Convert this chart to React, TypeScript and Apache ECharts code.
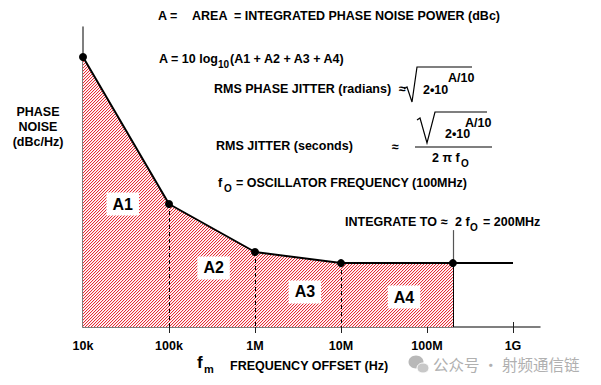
import React, { useEffect, useRef } from "react";
import * as echarts from "echarts";

// ---- data ----
const freqHz = [1e4, 1e5, 1e6, 1e7, 2e8, 1e9];
const noiseDbcHz = [-70, -119, -135, -138.7, -138.7, -138.7];
const markerCount = 5; // points with dots (up to 200 MHz)
const tickFreqs = [1e4, 1e5, 1e6, 1e7, 1e8, 1e9];
const tickLabels = ["10k", "100k", "1M", "10M", "100M", "1G"];
const areaNames = ["A1", "A2", "A3", "A4"];
const areaLabelFreq = [2.9e4, 3.3e5, 3.8e6, 5.4e7];
const areaLabelLevel = [-119, -140.3, -148.3, -150];
const integrateFreq = 2e8;
const integrateLabelLevel = -127.7;
const xMaxFreq = 2.06e9;
const yMin = -160;
const yMax = -60;

const lg = (v: number) => Math.log10(v);
const FONT = "'Liberation Sans', Arial, sans-serif";
const B12 = `bold 12.5px ${FONT}`;
const SUB = `bold 10px ${FONT}`;

function makeHatch() {
  const n = 6;
  const c = document.createElement("canvas");
  c.width = n;
  c.height = n;
  const g = c.getContext("2d")!;
  g.fillStyle = "#ffffff";
  g.fillRect(0, 0, n, n);
  for (let x = 0; x < n; x++) {
    for (let y = 0; y < n; y++) {
      const r = (x + y) % 3;
      if (r === 0) {
        g.fillStyle = "#e82a35";
        g.fillRect(x, y, 1, 1);
      } else if (r === 1) {
        g.fillStyle = "#fbdadd";
        g.fillRect(x, y, 1, 1);
      }
    }
  }
  return c;
}

function txt(x: number, y: number, text: string, font = B12, align = "left", fill = "#000") {
  return {
    type: "text",
    x,
    y,
    silent: true,
    style: { text, font, fill, align, verticalAlign: "middle" },
  };
}

export default function App() {
  const ref = useRef<HTMLDivElement>(null);
  useEffect(() => {
    if (!ref.current) return;
    const chart = echarts.init(ref.current, null, { renderer: "svg" });
    const hatch = makeHatch();
    const pts = freqHz.map((f, i) => [lg(f), noiseDbcHz[i]]);
    const areaPts = pts.slice(0, markerCount);
    const linePts = pts.map((p, i) =>
      i < markerCount ? { value: p } : { value: p, symbol: "none" }
    );
    const dashed = [1, 2, 3].map((i) => [
      { coord: [lg(freqHz[i]), noiseDbcHz[i]] },
      { coord: [lg(freqHz[i]), yMin] },
    ]);
    const iv = noiseDbcHz[freqHz.indexOf(integrateFreq)];
    const markData: any[] = [
      ...dashed.map((d) => [
        { ...d[0], lineStyle: { type: [4, 3], color: "#000", width: 1 } },
        d[1],
      ]),
      [
        { coord: [lg(integrateFreq), yMin], lineStyle: { type: "solid", color: "#000", width: 1 } },
        { coord: [lg(integrateFreq), iv] },
      ],
      [
        { coord: [lg(integrateFreq), iv], lineStyle: { type: "solid", color: "#555", width: 1.2 } },
        { coord: [lg(integrateFreq), integrateLabelLevel] },
      ],
    ];

    const tickVals = tickFreqs.map((f) => lg(f));
    const option: any = {
      animation: false,
      grid: { left: 83, right: 61, top: 27, bottom: 58, outerBoundsMode: "none" },
      xAxis: [
        {
          type: "value",
          min: lg(tickFreqs[0]),
          max: lg(xMaxFreq),
          position: "bottom",
          splitLine: { show: false },
          axisLine: { lineStyle: { color: "#555", width: 1.5 } },
          axisTick: {
            show: true,
            length: 6,
            customValues: tickVals.slice(1),
            lineStyle: { color: "#222", width: 1 },
          },
          axisLabel: {
            customValues: tickVals,
            margin: 12,
            color: "#000",
            fontFamily: FONT,
            fontWeight: "bold",
            fontSize: 12.5,
            formatter: (v: number) => tickLabels[tickVals.findIndex((t) => Math.abs(t - v) < 1e-6)] ?? "",
          },
        },
        {
          type: "value",
          min: lg(tickFreqs[0]),
          max: lg(xMaxFreq),
          position: "bottom",
          offset: 0,
          splitLine: { show: false },
          axisLine: { show: false },
          axisTick: {
            show: true,
            inside: true,
            length: 5,
            customValues: tickVals.slice(1),
            lineStyle: { color: "#222", width: 1 },
          },
          axisLabel: { show: false },
        },
      ],
      yAxis: {
        type: "value",
        min: yMin,
        max: yMax,
        splitLine: { show: false },
        axisTick: { show: false },
        axisLabel: { show: false },
        axisLine: { show: true, lineStyle: { color: "#555", width: 1.5 } },
      },
      series: [
        {
          type: "line",
          data: areaPts,
          symbol: "none",
          lineStyle: { width: 0 },
          areaStyle: {
            origin: "start",
            opacity: 1,
            color: { image: hatch, repeat: "repeat", imageWidth: 6, imageHeight: 6 },
          },
          silent: true,
          z: 1,
        },
        {
          type: "line",
          data: linePts,
          symbol: "circle",
          symbolSize: 8,
          itemStyle: { color: "#000" },
          lineStyle: { color: "#000", width: 2 },
          z: 5,
          markLine: {
            silent: true,
            symbol: ["none", "none"],
            label: { show: false },
            data: markData,
            z: 3,
          },
        },
        {
          type: "scatter",
          symbolSize: 1,
          itemStyle: { color: "#fff", opacity: 1 },
          data: areaNames.map((n, i) => ({ name: n, value: [lg(areaLabelFreq[i]), areaLabelLevel[i]] })),
          label: {
            show: true,
            position: "inside",
            formatter: "{b}",
            color: "#000",
            opacity: 1,
            fontFamily: FONT,
            fontWeight: "bold",
            fontSize: 16,
            backgroundColor: "#fff",
            padding: [4, 6, 3, 6],
          },
          z: 6,
        },
      ],
      graphic: [
        txt(158, 16, "A ="),
        txt(192, 16, "AREA  = INTEGRATED PHASE NOISE POWER (dBc)"),
        txt(159, 59, "A = 10 log"),
        txt(218, 64, "10", SUB),
        txt(230, 59, "(A1 + A2 + A3 + A4)"),
        txt(214, 89, "RMS PHASE JITTER (radians)"),
        txt(399, 89, "≈"),
        { type: "polyline", silent: true, shape: { points: [[404, 89], [407, 87], [412, 102], [417, 67], [472, 67]] }, style: { stroke: "#000", lineWidth: 1.2, fill: null } },
        txt(423, 90, "2•10"),
        txt(448, 78, "A/10"),
        txt(216, 146, "RMS JITTER (seconds)"),
        txt(392, 147, "≈"),
        { type: "polyline", silent: true, shape: { points: [[417, 120], [420, 118], [427, 143], [435, 112], [487, 112]] }, style: { stroke: "#000", lineWidth: 1.2, fill: null } },
        txt(465, 123, "A/10"),
        txt(445, 134, "2•10"),
        { type: "line", silent: true, shape: { x1: 415, y1: 147, x2: 492, y2: 147 }, style: { stroke: "#000", lineWidth: 1.2 } },
        txt(432, 158, "2 π f"),
        txt(461, 163, "O", SUB),
        txt(218, 183, "f"),
        txt(224, 188, "O", SUB),
        txt(236, 183, "= OSCILLATOR FREQUENCY (100MHz)"),
        txt(345, 222, "INTEGRATE TO"),
        txt(441, 222, "≈"),
        txt(455, 222, "2 f"),
        txt(470, 227, "O", SUB),
        txt(483, 222, "= 200MHz"),
        txt(38, 112, "PHASE", B12, "center"),
        txt(38, 127, "NOISE", B12, "center"),
        txt(38, 142, "(dBc/Hz)", B12, "center"),
        txt(197, 362, "f", `bold 17px ${FONT}`),
        txt(204, 369, "m", `bold 11px ${FONT}`),
        txt(230, 366, "FREQUENCY OFFSET (Hz)"),
        { type: "ellipse", silent: true, shape: { cx: 416, cy: 362, rx: 7.5, ry: 6.5 }, style: { fill: "#b8b8b8" } },
        { type: "ellipse", silent: true, shape: { cx: 423, cy: 368, rx: 6, ry: 5 }, style: { fill: "#c8c8c8", stroke: "#fff", lineWidth: 1 } },
        txt(433, 364, "公众号 · 射频通信链", `15.5px 'Noto Sans CJK SC', sans-serif`, "left", "#b0b0b0"),
      ],
    };
    chart.setOption(option);
    return () => chart.dispose();
  }, []);
  return (
    <div
      ref={ref}
      style={{ position: "absolute", left: 0, top: 0, width: 601, height: 385, background: "#fff" }}
    />
  );
}
